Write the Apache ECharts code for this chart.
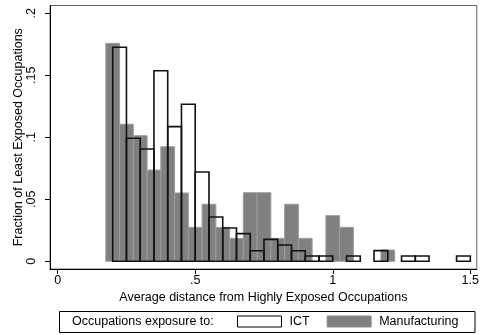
<!DOCTYPE html>
<html>
<head>
<meta charset="utf-8">
<script src="https://cdn.jsdelivr.net/npm/echarts@6/dist/echarts.min.js"></script>
<style>
html,body{margin:0;padding:0;background:#fff;}
#chart{width:482px;height:335px;}
</style>
</head>
<body>
<div id="chart"></div>
<script>
// ---- data ----
var binWidth = 0.05;
var ictBinStart = [0.20,0.25,0.30,0.35,0.40,0.45,0.50,0.55,0.60,0.65,0.70,0.75,0.80,0.85,0.90,0.95,1.05,1.15,1.25,1.30,1.45];
var ictValues   = [0.1726,0.0992,0.0906,0.1537,0.1086,0.1266,0.0720,0.0357,0.0269,0.0223,0.0085,0.0177,0.0131,0.0085,0.0043,0.0043,0.0043,0.0086,0.0043,0.0043,0.0043];
var mfgBinStart = [0.175,0.225,0.275,0.325,0.375,0.425,0.475,0.525,0.575,0.625,0.675,0.725,0.775,0.825,0.875,0.975,1.025,1.175];
var mfgValues   = [0.1758,0.1105,0.1013,0.0736,0.0924,0.0551,0.0274,0.0460,0.0274,0.0185,0.0553,0.0553,0.0185,0.0460,0.0185,0.0368,0.0274,0.0091];
var xTicks = [0, 0.5, 1, 1.5];
var xTickLabels = ['0', '.5', '1', '1.5'];
var yTicks = [0, 0.05, 0.1, 0.15, 0.2];
var yTickLabels = ['0', '.05', '.1', '.15', '.2'];
var seriesNames = ['ICT', 'Manufacturing'];
var legendTitle = 'Occupations exposure to:';
var xTitle = 'Average distance from Highly Exposed Occupations';
var yTitle = 'Fraction of Least Exposed Occupations';

function toBins(starts, vals) {
  return starts.map(function (s, i) { return [s, s + binWidth, vals[i]]; });
}
function renderBin(fill, stroke, lw) {
  return function (params, api) {
    var p0 = api.coord([api.value(0), api.value(2)]);
    var p1 = api.coord([api.value(1), 0]);
    return {
      type: 'rect',
      shape: { x: p0[0], y: p0[1], width: p1[0] - p0[0], height: p1[1] - p0[1] },
      style: { fill: fill, stroke: stroke, lineWidth: lw }
    };
  };
}
var FONT = 'Liberation Sans, Arial, Helvetica, sans-serif';
var FS = 12.5;
var xFmt = {}; xTicks.forEach(function (v, i) { xFmt[v] = xTickLabels[i]; });
var yFmt = {}; yTicks.forEach(function (v, i) { yFmt[v] = yTickLabels[i]; });

var chart = echarts.init(document.getElementById('chart'), null, { renderer: 'canvas' });
chart.setOption({
  animation: false,
  backgroundColor: '#fff',
  textStyle: { fontFamily: FONT },
  grid: { left: 50, right: 3.5, top: 5.5, bottom: 66, show: true, borderColor: '#666', borderWidth: 1, containLabel: false },
  xAxis: {
    type: 'value', min: -0.0279, max: 1.5235,
    axisLine: { show: true, onZero: false, lineStyle: { color: '#000', width: 1 } },
    axisTick: { show: true, length: 5, lineStyle: { color: '#000' }, customValues: xTicks },
    axisLabel: { show: true, margin: 5, color: '#000', fontSize: FS, fontFamily: FONT, customValues: xTicks,
      formatter: function (v) { return xFmt[v] !== undefined ? xFmt[v] : ''; } },
    splitLine: { show: false },
    name: xTitle, nameLocation: 'middle', nameGap: 22, nameMoveOverlap: false,
    nameTextStyle: { color: '#000', fontSize: FS, fontFamily: FONT }
  },
  yAxis: {
    type: 'value', min: -0.00621, max: 0.2063,
    axisLine: { show: true, onZero: false, lineStyle: { color: '#000', width: 1 } },
    axisTick: { show: true, length: 5, lineStyle: { color: '#000' }, customValues: yTicks },
    axisLabel: { show: true, margin: 12, rotate: 90, color: '#000', fontSize: FS, fontFamily: FONT, customValues: yTicks,
      formatter: function (v) { return yFmt[v] !== undefined ? yFmt[v] : ''; } },
    splitLine: { show: false },
    name: yTitle, nameLocation: 'middle', nameGap: 25, nameRotate: 90, nameMoveOverlap: false,
    nameTextStyle: { color: '#000', fontSize: FS, fontFamily: FONT }
  },
  legend: {
    left: 237, top: 315, padding: 0, itemWidth: 44, itemHeight: 11, itemGap: 17,
    textStyle: { color: '#000', fontSize: FS, fontFamily: FONT, padding: [0, 0, 0, 3] },
    data: [
      { name: seriesNames[0], icon: 'rect', itemStyle: { color: '#fff', borderColor: '#000', borderWidth: 1 } },
      { name: seriesNames[1], icon: 'rect', itemStyle: { color: '#808080', borderColor: '#8c8c8c', borderWidth: 1 } }
    ]
  },
  graphic: [
    { type: 'rect', shape: { x: 59.5, y: 311.5, width: 415.5, height: 21 },
      style: { fill: 'none', stroke: '#000', lineWidth: 1 }, z: 0 },
    { type: 'text', x: 72, y: 322, style: { text: legendTitle, fill: '#000', font: FS + 'px ' + FONT, verticalAlign: 'middle' } }
  ],
  series: [
    { type: 'custom', name: seriesNames[1], coordinateSystem: 'cartesian2d',
      itemStyle: { color: '#808080' },
      encode: { x: [0, 1], y: 2 },
      renderItem: renderBin('#808080', '#9c9c9c', 1),
      data: toBins(mfgBinStart, mfgValues), z: 2 },
    { type: 'custom', name: seriesNames[0], coordinateSystem: 'cartesian2d',
      itemStyle: { color: '#fff' },
      encode: { x: [0, 1], y: 2 },
      renderItem: renderBin('transparent', '#111', 1.6),
      data: toBins(ictBinStart, ictValues), z: 3 }
  ]
});
</script>
</body>
</html>
